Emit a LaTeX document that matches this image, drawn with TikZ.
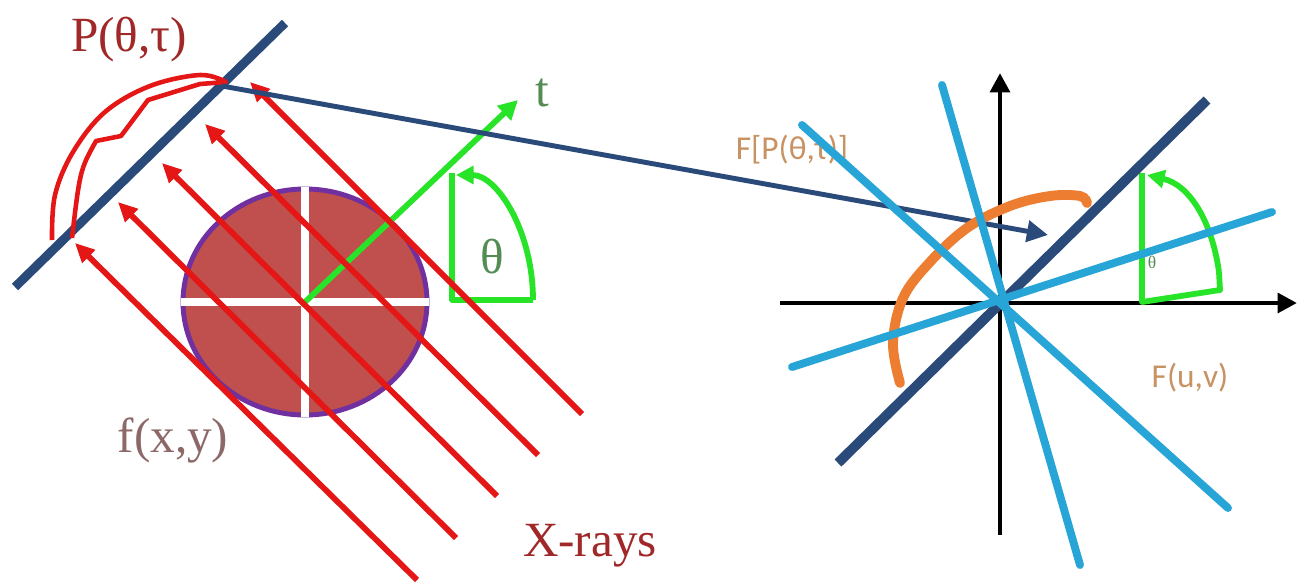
\documentclass[tikz,border=0pt]{standalone}
\usepackage{fontspec}
\setmainfont{Liberation Serif}
\newfontfamily\calib{Carlito}
\usetikzlibrary{arrows.meta}

\definecolor{detblue}{RGB}{42,74,122}
\definecolor{rayred}{RGB}{228,22,22}
\definecolor{objfill}{RGB}{192,80,77}
\definecolor{objedge}{RGB}{112,48,160}
\definecolor{axgreen}{RGB}{40,228,40}
\definecolor{lblred}{RGB}{160,40,40}
\definecolor{lblgrey}{RGB}{140,104,104}
\definecolor{lblgreen}{RGB}{84,140,84}
\definecolor{spokeblue}{RGB}{40,165,215}
\definecolor{arcorange}{RGB}{237,125,49}
\definecolor{lbltan}{RGB}{200,146,98}

\tikzset{
  detector/.style={draw=detblue,line width=5.1pt},
  ray/.style={draw=rayred,line width=3.3pt,-{Triangle[length=11pt,width=10pt]}},
  profile/.style={draw=rayred,line width=2.6pt,line join=round},
  greenline/.style={draw=axgreen,line width=3.3pt,line join=round},
  axis/.style={draw=black,line width=2.8pt,-{Triangle[length=11pt,width=11pt]}},
  spoke/.style={draw=spokeblue,line width=4.5pt,line cap=round},
  serlabel/.style={font=\fontsize{28}{30}\selectfont,inner sep=0pt},
  sanslabel/.style={font=\calib\fontsize{19}{21}\selectfont,text=lbltan,inner sep=0pt},
}

\begin{document}
\begin{tikzpicture}[x=0.02cm,y=-0.02cm]
\fill[white] (0,0) rectangle (1299,582);
\path[use as bounding box] (0,0) rectangle (1299,582);

% ---------- object f(x,y) ----------
\coordinate (O1) at (305,302);
\fill[objfill,draw=objedge,line width=2.8pt] (O1) ellipse [x radius=122,y radius=113];
\draw[white,line width=4pt] (181,302) -- (429,302);
\draw[white,line width=4pt] (305,187) -- (305,417);

% ---------- t axis and angle ----------
\coordinate (tTip) at (518,100);
\draw[greenline,-{Triangle[length=11pt,width=11pt]}] (O1) -- (tTip);
\draw[greenline] (452,173) -- (452,300) -- (533,300);
\draw[greenline,-{Triangle[length=10pt,width=10pt]}] (533,300) .. controls (533,231) and (497,175) .. (456,175);

% ---------- detector and projection profile ----------
\coordinate (detA) at (15,287);
\coordinate (detB) at (285,23);
\draw[detector] (detA) -- (detB);
\draw[profile] plot[smooth,tension=0.6] coordinates {(52,240) (55,195) (73,152) (105,112) (150,86) (200,75) (226,82)}
  -- (200,84) -- (148,100) -- (121,136) -- (96,141) .. controls (80,170) .. (72,238);

% ---------- parallel X-rays ----------
\foreach \i/\tx/\ty/\hx/\hy in {1/417/580/75/243, 2/456/538/118/202, 3/497/496/162/163, 4/538/455/205/124, 5/582/414/250/82}{
  \coordinate (rayS\i) at (\tx,\ty);
  \coordinate (rayE\i) at (\hx,\hy);
  \draw[ray] (rayS\i) -- (rayE\i);
}

% ---------- Fourier plane ----------
\coordinate (O2) at (1000,302);
\draw[axis] (780,303) coordinate (hL) -- (1297,303) coordinate (hR);
\draw[axis] (1000,535) coordinate (vB) -- (1000,73) coordinate (vT);

\draw[greenline] (1142,173) -- (1142,302) -- (1220,290) -- (1219,272);
\draw[greenline,-{Triangle[length=10pt,width=10pt]}] (1219,272) .. controls (1212,222) and (1190,185) .. (1147,175);
\node[font=\fontsize{10}{11}\selectfont,text=lblgreen,inner sep=0pt] (th2Lbl) at (1152,262) {θ};
\node[sanslabel] (FPLbl) at (792,150) {F[P(θ,τ)]};

\coordinate (slA) at (838,463);
\coordinate (slB) at (1207,100);
\draw[detector,line width=5.6pt] (slA) -- (slB);

% transfer arrow from the projection to the central slice
\coordinate (pStart) at (222,86);
\coordinate (pEnd) at (1048,235);
\draw[draw=detblue,line width=2.8pt,-{Triangle[length=12pt,width=12pt]}] (pStart) -- (pEnd);

\draw[arcorange,line width=5.6pt,line cap=round] plot[smooth,tension=0.6] coordinates
  {(900,383) (893,343) (903,298) (930,262) (967,228) (1010,206) (1050,196) (1080,196) (1087,203)};

\draw[spoke] (802,125) -- (1228,508);
\draw[spoke] (942,85) -- (1080,565);
\draw[spoke] (792,367) -- (1272,212);

% ---------- labels ----------
\node[serlabel,text=lblred] (pLbl) at (129,40) {P(θ,τ)};
\node[serlabel,text=lblgrey] (fLbl) at (173,440) {f(x,y)};
\node[serlabel,text=lblred] (xLbl) at (590,546) {X-rays};
\node[serlabel,text=lblgreen] (tLbl) at (542,93) {t};
\node[serlabel,text=lblgreen] (thLbl) at (492,257) {θ};
\node[sanslabel] (FuvLbl) at (1190,378) {F(u,v)};
\end{tikzpicture}
\end{document}
